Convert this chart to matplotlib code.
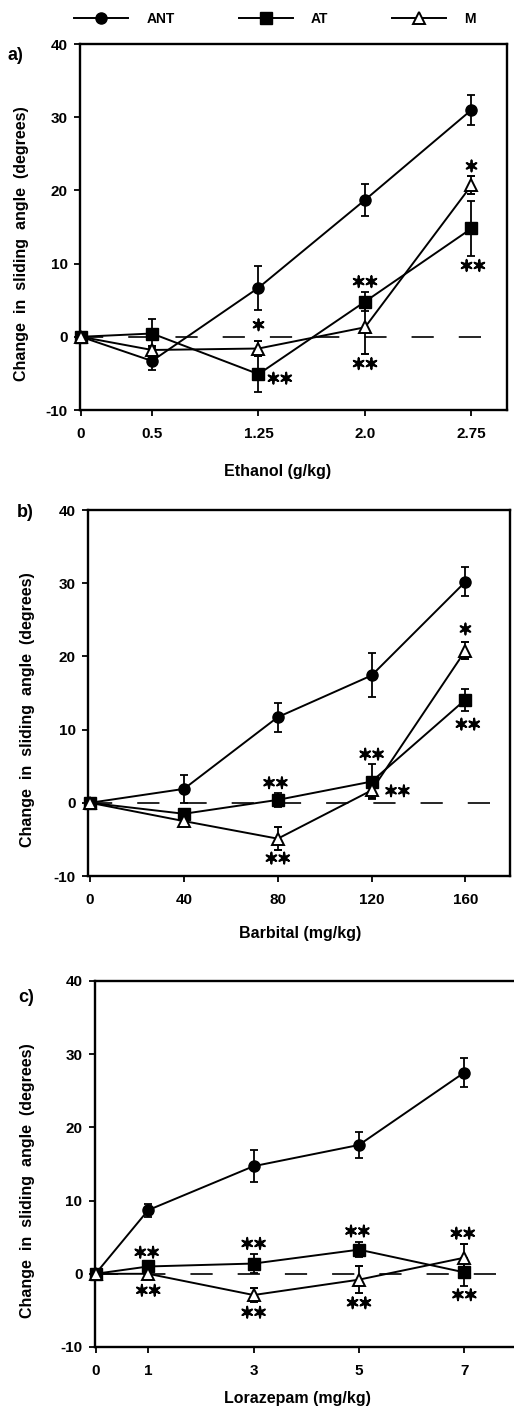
import numpy as np
import matplotlib.pyplot as plt
from matplotlib.lines import Line2D
import matplotlib.patheffects as pe

plt.rcParams['font.family'] = ['Liberation Sans', 'DejaVu Sans']
plt.rcParams['font.weight'] = 'bold'
plt.rcParams['axes.labelweight'] = 'bold'
plt.rcParams['lines.scale_dashes'] = False
plt.rcParams['axes.unicode_minus'] = False

# a) ethanol
eth_x = [0, 0.5, 1.25, 2.0, 2.75]
eth_ant = [0, -3.3, 6.7, 18.7, 31.0]
eth_ant_err = [0, 1.3, 3.0, 2.2, 2.1]
eth_at = [0, 0.45, -5.1, 4.8, 14.8]
eth_at_err = [0, 2.0, 2.5, 1.3, 3.7]
eth_m = [0, -1.8, -1.6, 1.3, 20.7]
eth_m_err = [0, 0.6, 1.0, 3.7, 1.2]
eth_stars = [(1.25, 1.5, '*'), (1.40, -5.8, '**'), (2.0, 7.4, '**'),
             (2.0, -3.8, '**'), (2.75, 23.2, '*'), (2.76, 9.6, '**')]

# b) barbital
bar_x = [0, 40, 80, 120, 160]
bar_ant = [0, 1.9, 11.7, 17.4, 30.2]
bar_ant_err = [0, 1.9, 2.0, 3.0, 2.0]
bar_at = [0, -1.5, 0.4, 2.9, 14.1]
bar_at_err = [0, 0.6, 1.0, 2.4, 1.5]
bar_m = [0, -2.5, -4.9, 1.7, 20.8]
bar_m_err = [0, 0.5, 1.6, 1.0, 1.1]
bar_stars = [(79, 2.6, '**'), (80, -7.7, '**'), (120, 6.5, '**'),
             (131, 1.5, '**'), (160, 23.6, '*'), (161, 10.6, '**')]

# c) lorazepam
lor_x = [0, 1, 3, 5, 7]
lor_ant = [0, 8.7, 14.7, 17.6, 27.5]
lor_ant_err = [0, 0.9, 2.2, 1.8, 2.0]
lor_at = [0, 1.0, 1.4, 3.3, 0.2]
lor_at_err = [0, 0.4, 1.3, 1.0, 1.9]
lor_m = [0, 0, -2.9, -0.8, 2.2]
lor_m_err = [0, 0.4, 0.9, 1.8, 1.9]
lor_stars = [(0.97, 2.8, '**'), (1.0, -2.4, '**'), (3.0, 4.0, '**'),
             (3.0, -5.4, '**'), (4.97, 5.7, '**'), (5.0, -4.1, '**'),
             (6.97, 5.4, '**'), (7.0, -3.0, '**')]

# panel box in pixels (left, top, right, bottom), xlim, xlabel pos, ylabel x px, panel label pos
panels = [
    ('a)', 'Ethanol (g/kg)', eth_x, ['0', '0.5', '1.25', '2.0', '2.75'],
     eth_ant, eth_ant_err, eth_at, eth_at_err, eth_m, eth_m_err, eth_stars,
     [80, 44, 507, 410], (-0.007, 3.0), (278, 470), 22, (8, 55)),
    ('b)', 'Barbital (mg/kg)', bar_x, ['0', '40', '80', '120', '160'],
     bar_ant, bar_ant_err, bar_at, bar_at_err, bar_m, bar_m_err, bar_stars,
     [88, 510, 510, 876], (-0.9, 179), (300, 932), 28, (17, 513)),
    ('c)', 'Lorazepam (mg/kg)', lor_x, ['0', '1', '3', '5', '7'],
     lor_ant, lor_ant_err, lor_at, lor_at_err, lor_m, lor_m_err, lor_stars,
     [95, 981, 517, 1347], (-0.01, 8.0), (297, 1397), 28, (18, 997)),
]

W, H = 514, 1408
fig = plt.figure(figsize=(W / 100, H / 100), dpi=100)

for (lab, xlab, xs, xtl, ant, ant_e, at, at_e, m, m_e, stars,
     box, xlim, xlpos, ylx, labpos) in panels:
    l, t, r, b = box
    w, h = r - l, b - t
    ax = fig.add_axes([l / W, 1 - b / H, w / W, h / H])
    ax.set_xlim(*xlim)
    ax.set_ylim(-10, 40)
    ax.plot([0, xlim[1]], [0, 0], color='black', lw=1.2,
            linestyle=(0, (16, 18)), zorder=1)
    kw = dict(color='black', lw=1.4, elinewidth=1.3, capsize=3,
              capthick=1.3, ms=8, clip_on=False, zorder=3)
    ax.errorbar(xs, ant, yerr=ant_e, fmt='-o', mfc='black', **kw)
    ax.errorbar(xs, at, yerr=at_e, fmt='-s', mfc='black', **kw)
    ax.errorbar(xs, m, yerr=m_e, fmt='-^', mfc='white', mec='black',
                mew=1.4, **kw)
    for sx, sy, s in stars:
        ax.text(sx, sy, '\u2736' * len(s), ha='center', va='center',
                fontsize=11, family='DejaVu Sans', zorder=4,
                path_effects=[pe.withStroke(linewidth=1.3, foreground='black')])
    ax.set_xticks(xs)
    ax.set_xticklabels(xtl)
    ax.set_yticks([-10, 0, 10, 20, 30, 40])
    ax.tick_params(direction='out', length=4, width=1.3, labelsize=11,
                   pad=5)
    ax.tick_params(axis='x', pad=8)
    for sp in ax.spines.values():
        sp.set_linewidth(1.7)
    ax.set_xlabel(xlab, fontsize=11.5)
    ax.xaxis.set_label_coords((xlpos[0] - l) / w, -(xlpos[1] - 6 - b) / h)
    ax.set_ylabel('Change  in  sliding  angle  (degrees)', fontsize=11.5)
    ax.yaxis.set_label_coords((ylx - l) / w, 0.455)
    ax.yaxis.label.set_va('center')
    fig.text(labpos[0] / W, 1 - labpos[1] / H, lab, fontsize=13,
             ha='left', va='center')

handles = [
    Line2D([], [], color='black', lw=1.4, marker='o', ms=8),
    Line2D([], [], color='black', lw=1.4, marker='s', ms=8),
    Line2D([], [], color='black', lw=1.4, marker='^', ms=9, mfc='white',
           mew=1.4),
]
fig.legend(handles, ['ANT', 'AT', 'M'], loc='center', ncol=3,
           bbox_to_anchor=(0.535, 1 - 19 / H), frameon=False, fontsize=10,
           handlelength=3.9, handletextpad=1.3, columnspacing=4.6)

fig.savefig('out.png', dpi=100)
